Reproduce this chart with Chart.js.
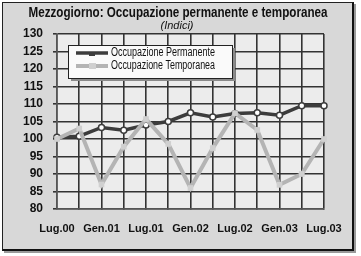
<!DOCTYPE html>
<html>
<head>
<meta charset="utf-8">
<script src="https://cdn.jsdelivr.net/npm/chart.js@4/dist/chart.umd.min.js"></script>
<style>
  html, body { margin: 0; padding: 0; background: #fff; }
  #wrap { position: relative; width: 361px; height: 256px; }
  #frame {
    position: absolute; left: 2px; top: 2px; width: 349px; height: 246px;
    background: #d8d8d8; border: 1px solid #222;
    border-right: 2px solid #111; border-bottom: 2px solid #111;
    box-shadow: 2px 2px 0 #9a9a9a;
  }
  #chart { position: absolute; left: 0; top: 0; }
</style>
</head>
<body>
<div id="wrap">
  <div id="frame"></div>
  <canvas id="chart" width="361" height="256"></canvas>
</div>
<script>
// Quarterly index values
const quarters = ['Lug.00', 'Ott.00', 'Gen.01', 'Apr.01', 'Lug.01', 'Ott.01', 'Gen.02',
                  'Apr.02', 'Lug.02', 'Ott.02', 'Gen.03', 'Apr.03', 'Lug.03'];
const shownTicks = ['Lug.00', 'Gen.01', 'Lug.01', 'Gen.02', 'Lug.02', 'Gen.03', 'Lug.03'];
const permanente = [100.5, 100.8, 103.3, 102.5, 104, 105, 107.5, 106.3, 107.3, 107.5, 106.8, 109.5, 109.5];
const temporanea = [100, 103, 87, 97.8, 105.7, 98.6, 86, 97.4, 107.4, 102.6, 86.9, 90, 100];

const titleText = 'Mezzogiorno: Occupazione permanente e temporanea';
const subtitleText = '(Indici)';

const DARK = '#3c3c3c';
const LIGHT = '#b4b4b4';

// draw text squeezed horizontally to a given width (narrow font look)
function squeezeText(ctx, text, x, y, maxW, align) {
    const w = ctx.measureText(text).width;
    const k = w > maxW ? maxW / w : 1;
    ctx.save();
    ctx.translate(x, y);
    ctx.scale(k, 1);
    ctx.textAlign = align;
    ctx.fillText(text, 0, 0);
    ctx.restore();
}

// plot background + title
const backdrop = {
    id: 'backdrop',
    beforeDraw(chart) {
        const { ctx, chartArea: a } = chart;
        ctx.save();
        ctx.fillStyle = '#ececec';
        ctx.fillRect(a.left, a.top, a.right - a.left, a.bottom - a.top);
        ctx.fillStyle = '#111';
        ctx.textBaseline = 'middle';
        ctx.font = 'bold 14px "Liberation Sans", Arial, sans-serif';
        squeezeText(ctx, titleText, 178, 13, 299, 'center');
        ctx.font = 'italic 11px "Liberation Sans", Arial, sans-serif';
        squeezeText(ctx, subtitleText, 177, 26, 40, 'center');
        ctx.restore();
    }
};

// legend box drawn inside the plot
const boxLegend = {
    id: 'boxLegend',
    afterDraw(chart) {
        const { ctx } = chart;
        const x = 68, y = 45, w = 164, h = 33;
        ctx.save();
        ctx.fillStyle = '#8a8a8a';
        ctx.fillRect(x + 3, y + 3, w, h);
        ctx.fillStyle = '#fafafa';
        ctx.fillRect(x, y, w, h);
        ctx.strokeStyle = '#222';
        ctx.lineWidth = 1;
        ctx.strokeRect(x + 0.5, y + 0.5, w, h);

        ctx.font = '12px "Liberation Sans", Arial, sans-serif';
        ctx.textBaseline = 'middle';
        chart.data.datasets.forEach((ds, i) => {
            const ly = y + 8 + i * 13;
            ctx.strokeStyle = ds.borderColor;
            ctx.lineWidth = ds.borderWidth;
            ctx.beginPath();
            ctx.moveTo(x + 8, ly);
            ctx.lineTo(x + 40, ly);
            ctx.stroke();
            if (i === 0) {
                ctx.fillStyle = DARK;
                ctx.fillRect(x + 21, ly, 6, 3);
            } else {
                ctx.fillStyle = ds.pointBackgroundColor;
                ctx.fillRect(x + 21, ly - 3, 7, 6);
            }
            ctx.fillStyle = '#111';
            squeezeText(ctx, ds.label, x + 43, ly, 104, 'left');
        });
        ctx.restore();
    }
};

new Chart(document.getElementById('chart'), {
    type: 'line',
    data: {
        labels: quarters,
        datasets: [
            {
                label: 'Occupazione Permanente',
                data: permanente,
                borderColor: DARK,
                borderWidth: 3.5,
                pointRadius: 3,
                pointBackgroundColor: '#ffffff',
                pointBorderColor: DARK,
                pointBorderWidth: 1.5,
                tension: 0,
                order: 1
            },
            {
                label: 'Occupazione Temporanea',
                data: temporanea,
                borderColor: LIGHT,
                borderWidth: 4,
                pointStyle: 'rect',
                pointRadius: 4,
                pointBackgroundColor: '#d0d0d0',
                pointBorderColor: '#d0d0d0',
                pointBorderWidth: 0,
                tension: 0,
                order: 0
            }
        ]
    },
    options: {
        responsive: false,
        animation: false,
        layout: { padding: { top: 34, right: 37, left: 0, bottom: 0 } },
        plugins: {
            legend: { display: false },
            title: { display: false },
            tooltip: { enabled: false }
        },
        scales: {
            x: {
                offset: false,
                afterFit(scale) { scale.height = 47; },
                grid: { color: '#333', lineWidth: 1.6, tickLength: 0 },
                border: { color: '#555', width: 1.5 },
                ticks: {
                    autoSkip: false,
                    maxRotation: 0,
                    padding: 13,
                    color: '#111',
                    font: { family: '"Liberation Sans", Arial, sans-serif', size: 11, weight: 'bold' },
                    callback(value) {
                        const lab = quarters[value];
                        return shownTicks.includes(lab) ? lab : '';
                    }
                }
            },
            y: {
                min: 80,
                max: 130,
                afterFit(scale) { scale.width = 57; },
                grid: { color: '#333', lineWidth: 1.6, tickLength: 4 },
                border: { color: '#555', width: 1.5 },
                ticks: {
                    stepSize: 5,
                    padding: 10,
                    color: '#111',
                    font: { family: '"Liberation Sans", Arial, sans-serif', size: 12, weight: 'bold' }
                }
            }
        }
    },
    plugins: [backdrop, boxLegend]
});
</script>
</body>
</html>
